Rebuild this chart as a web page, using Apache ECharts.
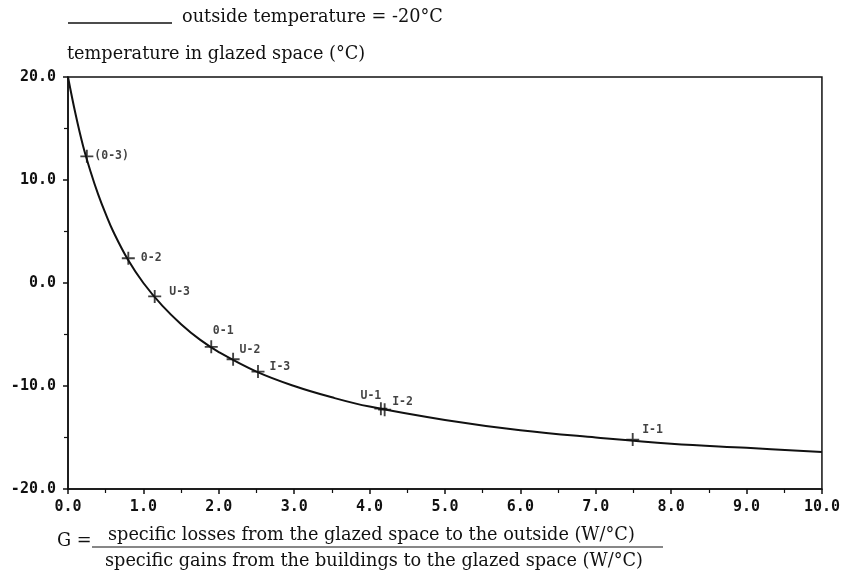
<!DOCTYPE html>
<html><head><meta charset="utf-8">
<script src="https://cdn.jsdelivr.net/npm/echarts@6/dist/echarts.min.js"></script>
<style>html,body{margin:0;padding:0;background:#fff}#c{width:843px;height:579px}</style>
</head><body><div id="c"></div>
<script>
// curve
const curveG = [0, 0.1, 0.2, 0.3, 0.4, 0.5, 0.6, 0.8, 1.0, 1.25, 1.5, 1.75, 2.0, 2.5, 3.0, 3.5, 4.0, 5.0, 6.0, 7.0, 8.0, 9.0, 10.0];
const curveT = [20, 16.4, 13.3, 10.8, 8.6, 6.7, 5.0, 2.2, 0.0, -2.2, -4.0, -5.5, -6.7, -8.6, -10.0, -11.1, -12.0, -13.3, -14.3, -15.0, -15.6, -16.0, -16.4];
// marked cases
const caseNames = ['(0-3)', '0-2', 'U-3', '0-1', 'U-2', 'I-3', 'U-1', 'I-2', 'I-1'];
const caseG = [0.25, 0.8, 1.15, 1.9, 2.19, 2.52, 4.15, 4.2, 7.49];
const caseT = [12.3, 2.4, -1.3, -6.2, -7.4, -8.6, -12.2, -12.3, -15.2];
const xTicks = [0, 1, 2, 3, 4, 5, 6, 7, 8, 9, 10];
const yTicks = [-20, -10, 0, 10, 20];

const labelPlace = {
  '(0-3)': {position: 'right', offset: [-4, 0]},
  '0-2': {position: 'right', offset: [1, 0]},
  'U-3': {position: 'right', offset: [3, -4]},
  '0-1': {position: 'top', offset: [12, 2]},
  'U-2': {position: 'right', offset: [-5, -9]},
  'I-3': {position: 'right', offset: [0, -5]},
  'U-1': {position: 'top', offset: [-10, 5]},
  'I-2': {position: 'right', offset: [-4, -8]},
  'I-1': {position: 'right', offset: [-2, -10]}
};

const monoFont = '"DejaVu Sans Mono", monospace';
const serif = '"DejaVu Serif", "Liberation Serif", serif';
const serifSize = 17.7;

const chart = echarts.init(document.getElementById('c'));
const crossPath = 'path://M-1,-7H1V-1H7V1H1V7H-1V1H-7V-1H-1Z';

chart.setOption({
  animation: false,
  grid: {left: 68, right: 21, top: 77, bottom: 90, show: true, borderColor: '#111', borderWidth: 1.5},
  xAxis: {
    type: 'value', min: 0, max: 10, interval: 1,
    axisLine: {show: true, onZero: false, lineStyle: {color: '#111', width: 1.5}},
    axisTick: {show: true, length: 5, lineStyle: {color: '#111', width: 1.5}},
    minorTick: {show: true, splitNumber: 2, length: 4, lineStyle: {color: '#111', width: 1.2}},
    splitLine: {show: false},
    axisLabel: {margin: 11, color: '#111', fontFamily: monoFont, fontWeight: 'bold', fontSize: 15,
      formatter: v => xTicks.includes(v) ? v.toFixed(1) : ''}
  },
  yAxis: {
    type: 'value', min: -20, max: 20, interval: 10,
    axisLine: {show: true, onZero: false, lineStyle: {color: '#111', width: 1.5}},
    axisTick: {show: true, length: 5, lineStyle: {color: '#111', width: 1.5}},
    minorTick: {show: true, splitNumber: 2, length: 4, lineStyle: {color: '#111', width: 1.2}},
    splitLine: {show: false},
    axisLabel: {margin: 12, color: '#111', fontFamily: monoFont, fontWeight: 'bold', fontSize: 15,
      formatter: v => yTicks.includes(v) ? v.toFixed(1) : ''}
  },
  series: [
    {
      type: 'line', smooth: 0.4, symbol: 'none',
      data: curveG.map((g, i) => [g, curveT[i]]),
      lineStyle: {color: '#111', width: 2}
    },
    {
      type: 'scatter', symbol: crossPath, symbolSize: 13,
      itemStyle: {color: '#111'},
      data: caseNames.map((n, i) => ({
        value: [caseG[i], caseT[i]], name: n,
        label: Object.assign({show: true, formatter: n, color: '#111', fontFamily: monoFont, fontWeight: 'bold', fontSize: 11.5}, labelPlace[n])
      }))
    }
  ],
  graphic: [
    {type: 'line', shape: {x1: 68, y1: 23, x2: 172, y2: 23}, style: {stroke: '#111', lineWidth: 1.5}},
    {type: 'text', x: 182, y: 17, style: {text: 'outside temperature = -20°C', font: serifSize + 'px ' + serif, fill: '#111', textVerticalAlign: 'middle'}},
    {type: 'text', x: 67, y: 54, style: {text: 'temperature in glazed space (°C)', font: serifSize + 'px ' + serif, fill: '#111', textVerticalAlign: 'middle'}},
    {type: 'text', x: 57, y: 541, style: {text: 'G =', font: serifSize + 'px ' + serif, fill: '#111', textVerticalAlign: 'middle'}},
    {type: 'line', shape: {x1: 92, y1: 547, x2: 663, y2: 547}, style: {stroke: '#111', lineWidth: 1.2}},
    {type: 'text', x: 108, y: 535, style: {text: 'specific losses from the glazed space to the outside (W/°C)', font: serifSize + 'px ' + serif, fill: '#111', textVerticalAlign: 'middle'}},
    {type: 'text', x: 105, y: 561, style: {text: 'specific gains from the buildings to the glazed space (W/°C)', font: serifSize + 'px ' + serif, fill: '#111', textVerticalAlign: 'middle'}}
  ]
});
</script></body></html>
